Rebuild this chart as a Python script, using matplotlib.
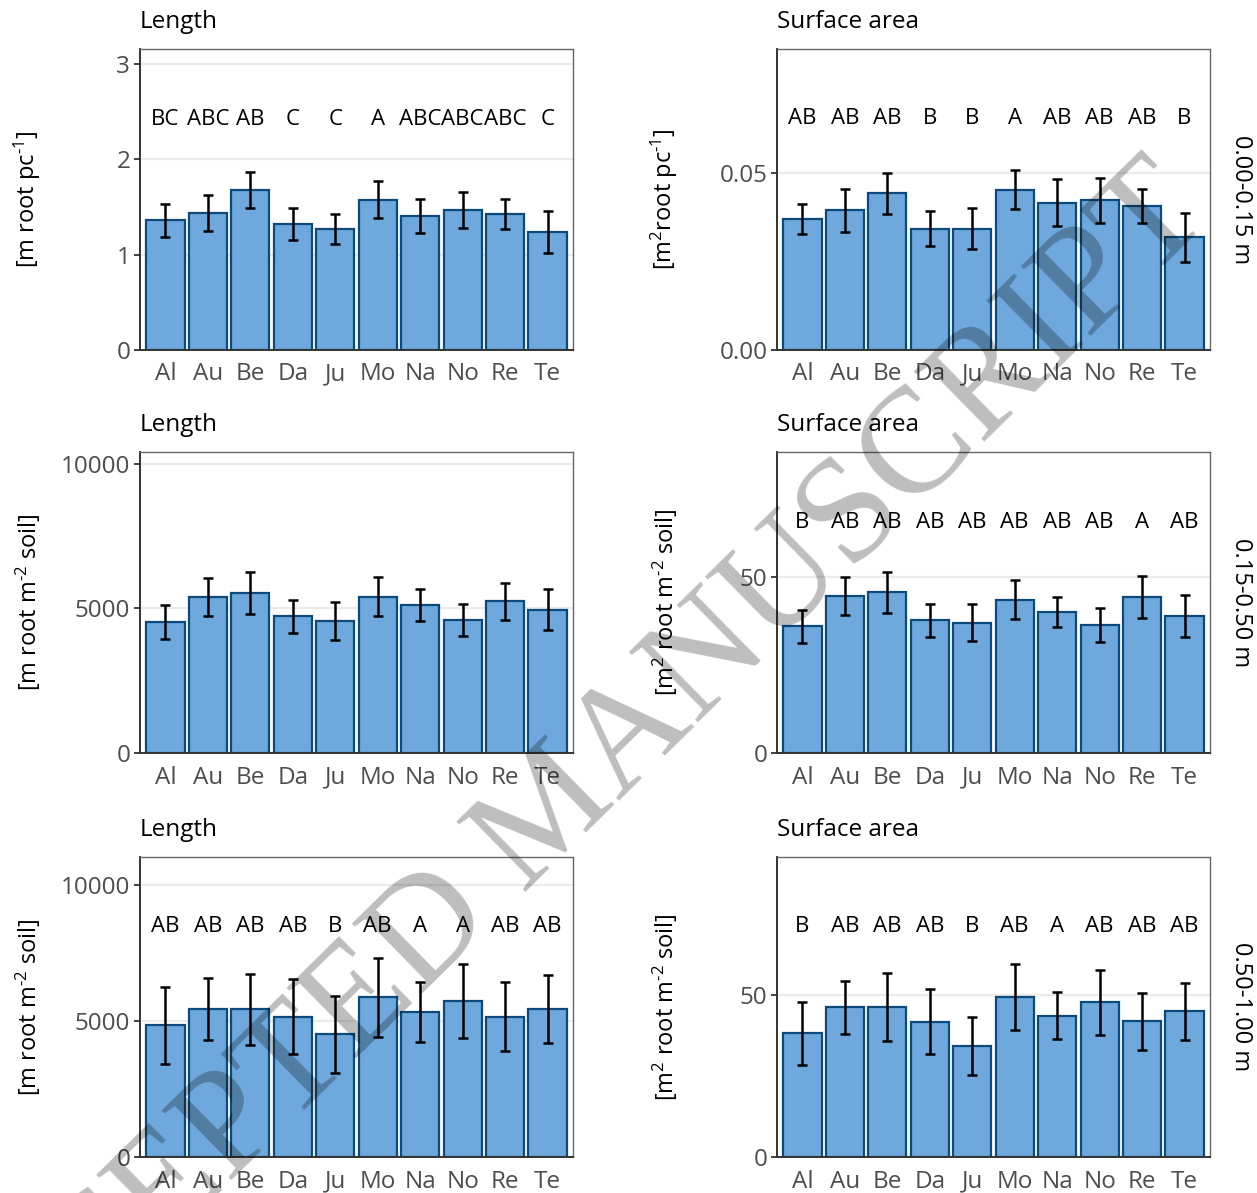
import matplotlib
matplotlib.use('Agg')
import matplotlib.pyplot as plt
import numpy as np

plt.rcParams['font.family'] = ['Open Sans', 'DejaVu Sans']
plt.rcParams['mathtext.fontset'] = 'custom'
plt.rcParams['mathtext.rm'] = 'Open Sans'
plt.rcParams['mathtext.default'] = 'regular'

sites = ['Al', 'Au', 'Be', 'Da', 'Ju', 'Mo', 'Na', 'No', 'Re', 'Te']

# 0.00-0.15 m
len_top = [1.36, 1.44, 1.68, 1.32, 1.27, 1.58, 1.41, 1.47, 1.43, 1.24]
len_top_se = [0.17, 0.19, 0.19, 0.17, 0.16, 0.19, 0.18, 0.19, 0.16, 0.22]
len_top_letters = ['BC', 'ABC', 'AB', 'C', 'C', 'A', 'ABC', 'ABC', 'ABC', 'C']

sa_top = [0.0370, 0.0394, 0.0442, 0.0343, 0.0343, 0.0453, 0.0416, 0.0423, 0.0407, 0.0318]
sa_top_se = [0.0043, 0.0060, 0.0057, 0.0050, 0.0058, 0.0055, 0.0066, 0.0064, 0.0049, 0.0070]
sa_top_letters = ['AB', 'AB', 'AB', 'B', 'B', 'A', 'AB', 'AB', 'AB', 'B']

# 0.15-0.50 m
len_mid = [4530, 5400, 5530, 4720, 4570, 5400, 5100, 4590, 5240, 4950]
len_mid_se = [590, 650, 740, 570, 650, 670, 550, 550, 630, 700]
len_mid_letters = None

sa_mid = [35.9, 44.4, 45.5, 37.6, 36.9, 43.5, 40.0, 36.3, 44.3, 38.9]
sa_mid_se = [4.6, 5.4, 5.9, 4.6, 5.2, 5.5, 4.3, 4.8, 6.0, 5.9]
sa_mid_letters = ['B', 'AB', 'AB', 'AB', 'AB', 'AB', 'AB', 'AB', 'A', 'AB']

# 0.50-1.00 m
len_bot = [4840, 5440, 5440, 5170, 4510, 5870, 5340, 5750, 5170, 5440]
len_bot_se = [1430, 1150, 1310, 1370, 1410, 1460, 1100, 1370, 1270, 1250]
len_bot_letters = ['AB', 'AB', 'AB', 'AB', 'B', 'AB', 'A', 'A', 'AB', 'AB']

sa_bot = [38.2, 46.2, 46.3, 41.8, 34.4, 49.4, 43.7, 47.8, 41.9, 45.1]
sa_bot_se = [9.8, 8.3, 10.6, 10.0, 9.0, 10.1, 7.2, 10.1, 8.8, 8.8]
sa_bot_letters = ['B', 'AB', 'AB', 'AB', 'B', 'AB', 'A', 'AB', 'AB', 'AB']

depths = ['0.00-0.15 m', '0.15-0.50 m', '0.50-1.00 m']

panels = [
    # row, col, title, values, se, letters, letter height, ymax, yticks, ylabel
    (0, 0, 'Length', len_top, len_top_se, len_top_letters, 2.42, 3.16, [0, 1, 2, 3],
     r'[m root pc$^{\text{-}1}$]'),
    (0, 1, 'Surface area', sa_top, sa_top_se, sa_top_letters, 0.0654, 0.085, [0.0, 0.05],
     r'[m$^{2}$root pc$^{\text{-}1}$]'),
    (1, 0, 'Length', len_mid, len_mid_se, len_mid_letters, 8000, 10400, [0, 5000, 10000],
     r'[m root m$^{\text{-}2}$ soil]'),
    (1, 1, 'Surface area', sa_mid, sa_mid_se, sa_mid_letters, 65.4, 85.3, [0, 50],
     r'[m$^{2}$ root m$^{\text{-}2}$ soil]'),
    (2, 0, 'Length', len_bot, len_bot_se, len_bot_letters, 8490, 11040, [0, 5000, 10000],
     r'[m root m$^{\text{-}2}$ soil]'),
    (2, 1, 'Surface area', sa_bot, sa_bot_se, sa_bot_letters, 71.3, 92.7, [0, 50],
     r'[m$^{2}$ root m$^{\text{-}2}$ soil]'),
]

W, H = 1257, 1193
col_left = [140, 777]
row_top = [49, 452, 857]
row_bot = [350, 753, 1157]
panel_w = 433

fig = plt.figure(figsize=(W / 100, H / 100), dpi=100)
x = np.arange(1, len(sites) + 1)

for row, col, title, vals, se, letters, lab_y, ymax, yticks, ylab in panels:
    x0 = col_left[col]
    ax = fig.add_axes([x0 / W, 1 - row_bot[row] / H, panel_w / W, (row_bot[row] - row_top[row]) / H])
    ax.bar(x, vals, width=0.9, color='#6FA8DC', edgecolor='#0D4A7C', linewidth=1.6, zorder=2)
    ax.errorbar(x, vals, yerr=se, fmt='none', ecolor='black', elinewidth=1.8,
                capsize=3.5, capthick=1.8, zorder=3)
    if letters is not None:
        for xi, t in zip(x, letters):
            ax.text(xi, lab_y, t, ha='center', va='center', fontsize=16, color='black')
    ax.set_xlim(0.4, 10.6)
    ax.set_ylim(0, ymax)
    ax.set_yticks(yticks)
    if col == 1 and row == 0:
        ax.set_yticklabels(['0.00', '0.05'])
    ax.set_xticks(x, sites)
    ax.yaxis.grid(True, color='#EBEBEB', linewidth=1.6)
    ax.set_axisbelow(True)
    ax.tick_params(axis='x', length=0, pad=9, labelsize=17.5, labelcolor='#4D4D4D')
    ax.tick_params(axis='y', length=4, width=1.3, color='#333333', pad=3,
                   labelsize=17.5, labelcolor='#4D4D4D')
    for side in ['top', 'right']:
        ax.spines[side].set_color('#666666')
        ax.spines[side].set_linewidth(1.0)
    for side in ['left', 'bottom']:
        ax.spines[side].set_color('#333333')
        ax.spines[side].set_linewidth(1.4)
    ax.set_title(title, loc='left', fontsize=17.5, pad=15)
    ax.set_ylabel(ylab, fontsize=17)
    ax.yaxis.set_label_coords(-0.225, 0.5)
    if col == 1:
        ax.text(1.072, 0.5, depths[row], transform=ax.transAxes, rotation=-90,
                ha='center', va='center', fontsize=17)

# watermark
fig.text(553 / W, 1 - 815 / H, 'ACCEPTED MANUSCRIPT', family='Liberation Serif',
         fontsize=108, color='black', alpha=0.26, rotation=44.5,
         ha='center', va='center', rotation_mode='anchor', zorder=10)

fig.savefig('out.png', dpi=100, facecolor='white')
